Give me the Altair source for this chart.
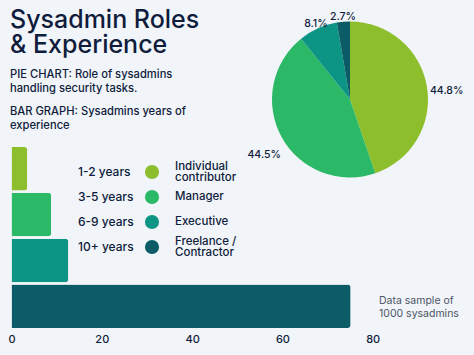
import altair as alt
import pandas as pd

# ---- data ----
years = ["1-2 years", "3-5 years", "6-9 years", "10+ years"]
experience_pct = [3.5, 8.8, 12.6, 75.1]
roles = ["Individual\ncontributor", "Manager", "Executive", "Freelance /\nContractor"]
role_pct = [44.8, 44.5, 8.1, 2.7]
colors = ["#8dbe2b", "#2cb967", "#0c9484", "#0b5c66"]
axis_ticks = [0, 20, 40, 60, 80]
title_lines = ["Sysadmin Roles", "& Experience"]
pie_note = ["PIE CHART: Role of sysadmins", "handling security tasks."]
bar_note = ["BAR GRAPH: Sysadmins years of", "experience"]
sample_note = ["Data sample of", "1000 sysadmins"]

FONT = "Inter"
NAVY = "#0f1c3c"
BG = "#f1f4f8"

bar_df = pd.DataFrame({"years": years, "pct": experience_pct})
pie_df = pd.DataFrame({"role": roles, "pct": role_pct, "idx": list(range(len(roles)))})
leg_df = pd.DataFrame({"years": years, "role": roles})
one = pd.DataFrame({"k": [0]})

color_scale = alt.Scale(domain=years + roles, range=colors + colors)

bars = alt.Chart(bar_df).mark_bar(cornerRadiusEnd=3).encode(
    x=alt.X("pct:Q",
            scale=alt.Scale(domain=[0, 80], range=[11.5, 372.7]),
            axis=alt.Axis(values=axis_ticks, grid=False, domain=False, ticks=False,
                          labelFlush=False, labelFont=FONT, labelFontSize=11,
                          labelFontWeight=500, labelColor=NAVY, labelPadding=2,
                          title=None)),
    y=alt.Y("years:N", sort=years,
            scale=alt.Scale(domain=years, range=[147, 328], paddingInner=0.05, paddingOuter=0),
            axis=None),
    color=alt.Color("years:N", scale=color_scale, legend=None),
)

pie = alt.Chart(pie_df).mark_arc(outerRadius=78).encode(
    theta=alt.Theta("pct:Q", stack=True),
    order=alt.Order("idx:Q"),
    color=alt.Color("role:N", scale=color_scale, legend=None),
    x=alt.value(350),
    y=alt.value(99.5),
)

pie_labels = alt.Chart(pie_df).transform_joinaggregate(
    total="sum(pct)"
).transform_window(
    cum="sum(pct)", sort=[alt.SortField("idx")], frame=[None, 0]
).transform_calculate(
    mid="2 * PI * (datum.cum - datum.pct / 2) / datum.total",
    r="datum.pct > 20 ? 98 : 83",
    label="format(datum.pct, '.1f') + '%'",
    px="350 + datum.r * sin(datum.mid)",
    py="99.5 - datum.r * cos(datum.mid) + (datum.pct > 20 ? 8 : 0)",
).mark_text(font=FONT, fontSize=10.5, fontWeight=500, color=NAVY).encode(
    x=alt.X("px:Q", scale=None, axis=None),
    y=alt.Y("py:Q", scale=None, axis=None),
    text="label:N",
)

leg_y = alt.Y("years:N", scale=alt.Scale(type="point", domain=years, range=[172, 247], padding=0), axis=None)

leg_dots = alt.Chart(leg_df).mark_circle(size=200, opacity=1).encode(
    x=alt.value(152), y=leg_y,
    color=alt.Color("years:N", scale=color_scale, legend=None),
)
leg_years = alt.Chart(leg_df).mark_text(font=FONT, fontSize=12, fontWeight=500, color=NAVY,
                                        align="left", baseline="middle").encode(
    x=alt.value(78), y=leg_y, text="years:N")
leg_roles_1 = alt.Chart(leg_df).transform_filter(
    "indexof(datum.role, '\\n') < 0"
).mark_text(font=FONT, fontSize=11.5, fontWeight=500, color=NAVY,
            align="left", baseline="middle").encode(
    x=alt.value(175), y=leg_y, text="role:N")
leg_roles_2 = alt.Chart(leg_df).transform_filter(
    "indexof(datum.role, '\\n') >= 0"
).mark_text(font=FONT, fontSize=11.5, fontWeight=500, color=NAVY,
            align="left", baseline="middle", lineBreak="\n", lineHeight=10.5,
            dy=-5).encode(
    x=alt.value(175), y=leg_y, text="role:N")

def note(lines, x, y, size, lh, weight=500, color=NAVY):
    return alt.Chart(one).mark_text(font=FONT, fontSize=size, fontWeight=weight, color=color,
                                    align="left", baseline="alphabetic", lineHeight=lh).encode(
        x=alt.value(x), y=alt.value(y), text=alt.value(lines))

title = note(title_lines, 10, 27.5, 25, 25.3)
n1 = note(pie_note, 10, 78, 11.2, 14)
n2 = note(bar_note, 10, 115, 11.2, 13.5)
n3 = note(sample_note, 379, 303.5, 10.5, 13.3, weight=400, color="#4d5566")

chart = alt.layer(bars, pie, pie_labels, leg_dots, leg_years, leg_roles_1, leg_roles_2,
                  title, n1, n2, n3).resolve_scale(
    x="independent", y="independent"
).properties(
    width=474, height=331,
    autosize=alt.AutoSizeParams(type="none"),
    padding={"left": 0, "top": 0, "right": 0, "bottom": 24},
    background=BG,
).configure_view(stroke=None)

chart.save("out.html", embed_options={"renderer": "svg", "actions": False})
